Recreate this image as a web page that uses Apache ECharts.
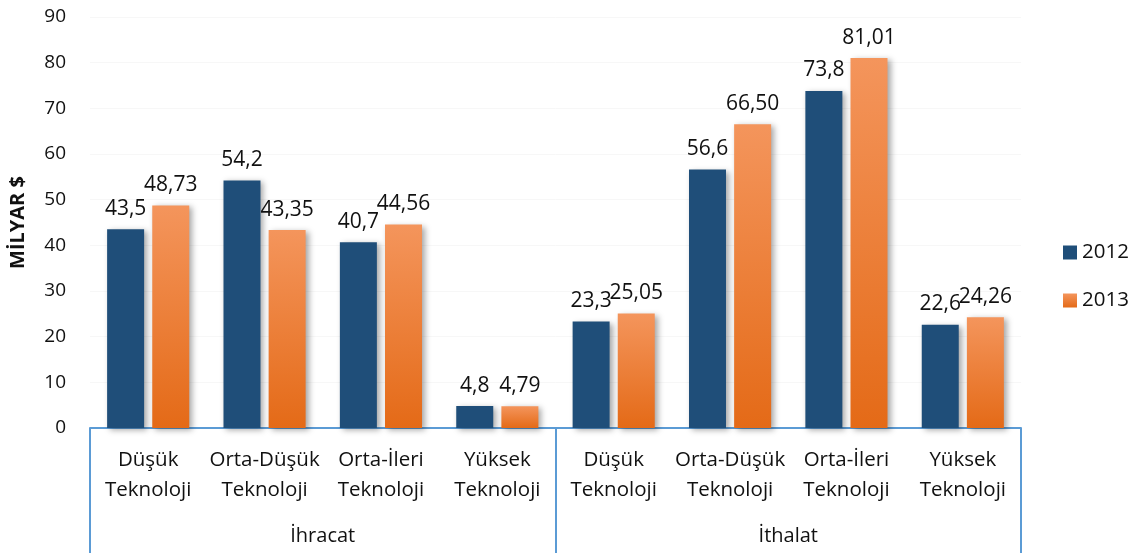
<!DOCTYPE html>
<html>
<head>
<meta charset="utf-8">
<script src="https://cdn.jsdelivr.net/npm/echarts@6/dist/echarts.min.js"></script>
<style>html,body{margin:0;padding:0;background:#fff}#c{width:1137px;height:553px}</style>
</head>
<body>
<div id="c"></div>
<script>
const categories = ['Düşük\nTeknoloji','Orta-Düşük\nTeknoloji','Orta-İleri\nTeknoloji','Yüksek\nTeknoloji','Düşük\nTeknoloji','Orta-Düşük\nTeknoloji','Orta-İleri\nTeknoloji','Yüksek\nTeknoloji'];
const groups = ['İhracat','İthalat'];
const values2012 = [43.5, 54.2, 40.7, 4.8, 23.3, 56.6, 73.8, 22.6];
const values2013 = [48.73, 43.35, 44.56, 4.79, 25.05, 66.50, 81.01, 24.26];
const seriesNames = ['2012','2013'];

const FONT = 'Open Sans';
const axisBlue = '#5B9BD5';
const chart = echarts.init(document.getElementById('c'));
const shadow = {shadowBlur: 6, shadowColor: 'rgba(0,0,0,0.35)', shadowOffsetX: 3, shadowOffsetY: 2};
chart.setOption({
  animation: false,
  textStyle: {fontFamily: FONT},
  grid: {left: 89, right: 116, top: 17, bottom: 125},
  legend: {
    orient: 'vertical', left: 1058, top: 237, itemGap: 27,
    itemWidth: 14, itemHeight: 14, icon: 'rect',
    textStyle: {fontSize: 20.5, color: '#111', fontFamily: FONT},
    data: seriesNames
  },
  xAxis: [{
    type: 'category', data: categories, position: 'bottom',
    axisLine: {show: true, lineStyle: {color: axisBlue, width: 2}},
    axisTick: {show: false},
    axisLabel: {fontSize: 20.5, color: '#111', lineHeight: 30, margin: 17, interval: 0, fontFamily: FONT}
  }, {
    type: 'category', data: groups, position: 'bottom',
    axisLine: {show: false},
    axisTick: {show: true, length: 126, lineStyle: {color: axisBlue, width: 2}},
    axisLabel: {fontSize: 20, color: '#111', margin: 98, fontFamily: FONT}
  }],
  yAxis: {
    type: 'value', min: 0, max: 90, interval: 10,
    name: 'MİLYAR $', nameLocation: 'middle', nameGap: 62,
    nameTextStyle: {fontSize: 20, fontWeight: 'bold', color: '#111', fontFamily: FONT},
    axisLine: {show: false}, axisTick: {show: false},
    axisLabel: {fontSize: 19, color: '#111', margin: 24, fontFamily: FONT},
    splitLine: {show: true, lineStyle: {color: '#f7f7f7', width: 1}}
  },
  series: [{
    name: seriesNames[0], type: 'bar', xAxisIndex: 0, data: values2012,
    barWidth: 37, barGap: '22%',
    itemStyle: Object.assign({color: '#1F4E79'}, shadow),
    label: {show: true, position: 'top', distance: 10, fontSize: 21, color: '#111', fontFamily: FONT,
      formatter: p => String(p.value).replace('.', ',')}
  }, {
    name: seriesNames[1], type: 'bar', xAxisIndex: 0, data: values2013,
    barWidth: 37,
    itemStyle: Object.assign({color: new echarts.graphic.LinearGradient(0,0,0,1,[{offset:0,color:'#F4955C'},{offset:1,color:'#E46A17'}])}, shadow),
    label: {show: true, position: 'top', distance: 10, fontSize: 21, color: '#111', fontFamily: FONT,
      formatter: p => p.value.toFixed(2).replace('.', ',')}
  }]
});
</script>
</body>
</html>
